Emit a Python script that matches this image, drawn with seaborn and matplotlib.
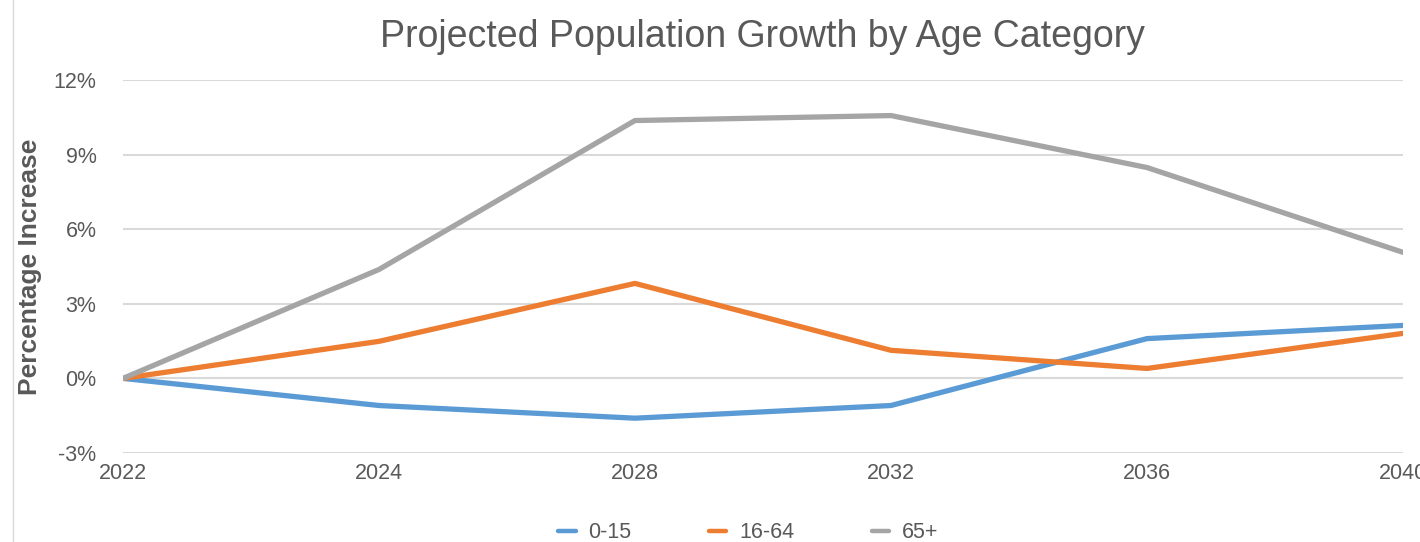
import pandas as pd
import seaborn as sns
import matplotlib.pyplot as plt
from matplotlib.lines import Line2D

# data
years = ['2022', '2024', '2028', '2032', '2036', '2040']
age_0_15 = [0.0, -1.09, -1.60, -1.09, 1.60, 2.13]
age_16_64 = [0.0, 1.49, 3.82, 1.13, 0.40, 1.81]
age_65_plus = [0.0, 4.38, 10.37, 10.57, 8.48, 5.07]
groups = ['0-15', '16-64', '65+']
colors = ['#5B9BD5', '#ED7D31', '#A5A5A5']

df = pd.DataFrame({
    'year': years * 3,
    'value': age_0_15 + age_16_64 + age_65_plus,
    'group': [g for g in groups for _ in years],
})

sns.set_style('white')
plt.rcParams['font.family'] = ['Liberation Sans', 'DejaVu Sans']

fig = plt.figure(figsize=(14.2, 5.42), dpi=100)
ax = fig.add_axes([0.0866, 0.1642, 0.9014, 0.6882])

sns.lineplot(data=df, x='year', y='value', hue='group', palette=colors,
             linewidth=3.8, ax=ax, legend=False, sort=False)

ax.set_xlim(0, len(years) - 1)
ax.set_ylim(-3, 12)
ax.set_yticks([-3, 0, 3, 6, 9, 12])
ax.set_yticklabels([f'{t}%' for t in [-3, 0, 3, 6, 9, 12]])
ax.grid(axis='y', color='#d9d9d9', linewidth=1.5)
ax.set_axisbelow(True)
for s in ax.spines.values():
    s.set_visible(False)
ax.tick_params(axis='both', length=0, labelsize=15.5, colors='#595959')
ax.tick_params(axis='y', pad=19)
ax.tick_params(axis='x', pad=7)
for lab in ax.get_xticklabels():
    lab.set_clip_on(False)

ax.set_xlabel('')
ax.set_ylabel('Percentage Increase', fontsize=19, fontweight='bold',
              color='#595959', va='center')
ax.yaxis.set_label_coords(-0.073, 0.5)
fig.text(0.537, 0.932, 'Projected Population Growth by Age Category',
         ha='center', va='center', fontsize=27, color='#595959')

handles = [Line2D([0], [0], color=c, linewidth=3.2) for c in colors]
fig.legend(handles, groups, loc='center', bbox_to_anchor=(0.527, 0.017),
           ncol=3, frameon=False, fontsize=15.5, handlelength=0.8,
           handletextpad=0.6, columnspacing=3.6, labelcolor='#595959')

# thin frame edge on the left
fig.add_artist(Line2D([0.0092, 0.0092], [0, 1], color='#d9d9d9',
                      linewidth=1, transform=fig.transFigure))

fig.savefig('out.png', dpi=100)
